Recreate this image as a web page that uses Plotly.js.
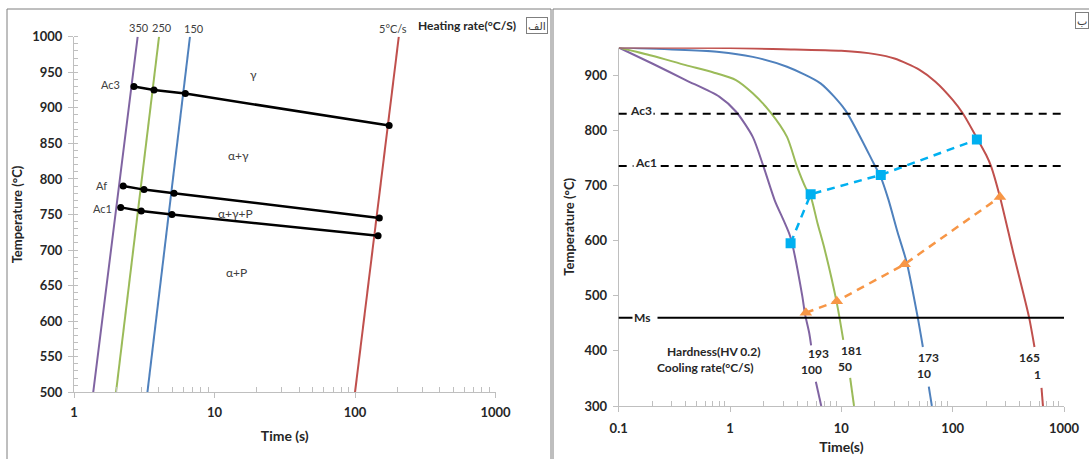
<!DOCTYPE html>
<html>
<head>
<meta charset="utf-8">
<script src="https://cdn.plot.ly/plotly-3.0.1.min.js"></script>
<style>
  html, body { margin: 0; padding: 0; background: #ffffff; }
  #chart { width: 1089px; height: 459px; }
</style>
</head>
<body>
<div id="chart"></div>
<script>
// ---------- Panel (الف): heating diagram ----------
const heatRateLabels = ['350', '250', '150', '5°C/s'];
const heat350Time = [1.37, 2.84];
const heat350Temp = [500, 1000];
const heat250Time = [1.99, 4.03];
const heat250Temp = [500, 1000];
const heat150Time = [3.33, 6.69];
const heat150Temp = [500, 1000];
const heat5Time = [100, 205];
const heat5Temp = [500, 1000];

const ac3Time = [2.67, 3.71, 6.2, 175];
const ac3Temp = [930, 925, 920, 875];
const afTime = [2.24, 3.15, 5.15, 149];
const afTemp = [790, 785, 780, 745];
const ac1Time = [2.15, 3.01, 4.98, 146];
const ac1Temp = [760, 755, 750, 720];

const heatTimeTicks = [1, 10, 100, 1000];
const heatTimeTickText = ['1', '10', '100', '1000'];

// ---------- Panel (ب): cooling diagram ----------
const coolRates = ['100', '50', '10', '1'];
const hardness = ['193', '181', '173', '165'];

const cool100Time = [0.1, 0.2, 0.4, 0.8, 1.13, 1.6, 2.0, 2.52, 3.48, 4.47, 4.7, 5.15, 5.35, null, 5.9, 6.6];
const cool100Temp = [950, 921, 891, 861, 834, 788, 734, 673, 607, 498, 468, 432, 410, null, 344, 300];
const cool50Time = [0.1, 0.2, 0.4, 0.7, 1.13, 1.6, 2.3, 3.25, 4.0, 4.8, 5.3, 6.1, 7.1, 9.1, 10.4, null, 12.0, 13.0];
const cool50Temp = [950, 935, 918, 905, 891, 867, 833, 788, 734, 695, 680, 632, 583, 487, 420, null, 351, 300];
const cool10Time = [0.1, 0.8, 1.6, 3.25, 6.5, 10.8, 15.3, 19.5, 22.6, 26.4, 32, 38.8, 48.4, 54, null, 61, 65];
const cool10Temp = [950, 942, 933, 915, 885, 837, 782, 740, 715, 675, 615, 559, 462, 407, null, 335, 300];
const cool1Time = [0.1, 1, 3, 10, 20, 30, 50, 70, 100, 124, 165, 200, 221, 266, 350, 484, 543, null, 628, 647];
const cool1Temp = [950, 949, 947, 944, 938, 930, 910, 888, 855, 830, 786, 755, 735, 679, 578, 462, 407, null, 333, 300];

const startTime = [3.5, 5.3, 22.6, 165];
const startTemp = [595, 684, 719, 783];
const finishTime = [4.8, 9.1, 37, 266];
const finishTemp = [469, 490, 557, 679];

const criticalNames = ['Ac3', 'Ac1', 'Ms'];
const criticalTemps = [830, 735, 460];

const coolTimeTicks = [0.1, 1, 10, 100, 1000];
const coolTimeTickText = ['0.1', '1', '10', '100', '1000'];
const coolTempTicks = [300, 400, 500, 600, 700, 800, 900];

// ---------- styling ----------
const W = 1089, H = 459;
const px = x => x / W;
const py = y => 1 - y / H;
const FONT = 'Lato, "Open Sans", "DejaVu Sans", sans-serif';
const AXIS_GREY = '#bfbfbf';
const TEXT_DARK = '#262626';
const PURPLE = '#8064A2', GREEN = '#9BBB59', BLUE = '#4F81BD', RED = '#C0504D';
const CYAN = '#00B0F0', ORANGE = '#F79646';

function minorLogTicks(fromExp, toExp) {
  const vals = [];
  for (let e = fromExp; e < toExp; e++) {
    for (let m = 2; m <= 9; m++) vals.push(m * Math.pow(10, e));
  }
  return vals;
}

const heatLine = (x, y, color) => ({
  x, y, xaxis: 'x', yaxis: 'y', type: 'scatter', mode: 'lines',
  line: { color, width: 2 }, hoverinfo: 'skip'
});
const criticalLine = (x, y) => ({
  x, y, xaxis: 'x', yaxis: 'y', type: 'scatter', mode: 'lines+markers',
  line: { color: '#000000', width: 2.5 },
  marker: { color: '#000000', size: 7 }, hoverinfo: 'skip'
});
const coolLine = (x, y, color) => ({
  x, y, xaxis: 'x2', yaxis: 'y2', type: 'scatter', mode: 'lines',
  connectgaps: false, line: { color, width: 2, shape: 'spline', smoothing: 0.7 },
  hoverinfo: 'skip'
});

const traces = [
  heatLine(heat350Time, heat350Temp, PURPLE),
  heatLine(heat250Time, heat250Temp, GREEN),
  heatLine(heat150Time, heat150Temp, BLUE),
  heatLine(heat5Time, heat5Temp, RED),
  criticalLine(ac3Time, ac3Temp),
  criticalLine(afTime, afTemp),
  criticalLine(ac1Time, ac1Temp),
  coolLine(cool100Time, cool100Temp, PURPLE),
  coolLine(cool50Time, cool50Temp, GREEN),
  coolLine(cool10Time, cool10Temp, BLUE),
  coolLine(cool1Time, cool1Temp, RED),
  {
    x: startTime, y: startTemp, xaxis: 'x2', yaxis: 'y2', type: 'scatter', mode: 'lines+markers',
    line: { color: CYAN, width: 2.5, dash: '8px,6px' },
    marker: { color: CYAN, symbol: 'square', size: 10 }, hoverinfo: 'skip'
  },
  {
    x: finishTime, y: finishTemp, xaxis: 'x2', yaxis: 'y2', type: 'scatter', mode: 'lines+markers',
    line: { color: ORANGE, width: 2.5, dash: '8px,6px' },
    marker: { color: ORANGE, symbol: 'triangle-up', size: 11 }, hoverinfo: 'skip'
  }
];

// horizontal critical-temperature lines across the cooling panel
const shapes = criticalTemps.map((t, i) => ({
  type: 'line', xref: 'x2 domain', yref: 'y2', x0: 0, x1: 1, y0: t, y1: t,
  line: { color: '#000000', width: i === 2 ? 1.8 : 2, dash: i === 2 ? 'solid' : '8px,6px' }
}));
// panel frames
shapes.push(
  { type: 'rect', xref: 'paper', yref: 'paper', x0: px(7), x1: px(551), y0: -0.1, y1: py(9),
    line: { color: '#7f7f7f', width: 1 } },
  { type: 'rect', xref: 'paper', yref: 'paper', x0: px(553), x1: 1.1, y0: -0.1, y1: py(9),
    line: { color: '#7f7f7f', width: 1 } }
);

const note = (text, x, y, opts = {}) => Object.assign({
  text, xref: 'paper', yref: 'paper', x: px(x), y: py(y), showarrow: false,
  xanchor: 'center', yanchor: 'middle',
  font: { family: FONT, size: 11, color: '#404040' }
}, opts);
const boldNote = (text, x, y, size = 12, extra = {}) =>
  note(text, x, y, Object.assign({ font: { family: FONT, size, color: TEXT_DARK, weight: 'bold' } }, extra));

const annotations = [
  // heating-rate labels above the left panel
  note(heatRateLabels[0], 139, 27),
  note(heatRateLabels[1], 162, 27),
  note(heatRateLabels[2], 194, 28),
  note(heatRateLabels[3], 393, 28),
  boldNote('Heating rate(°C/S)', 467, 26, 12),
  note('الف', 537, 26, { bordercolor: '#7f7f7f', borderwidth: 1, borderpad: 1,
    font: { family: FONT, size: 11, color: '#404040' } }),
  // critical points and phase fields
  note('Ac3', 110, 84),
  note('Af', 101, 185),
  note('Ac1', 103, 208),
  note('γ', 253, 75, { font: { family: FONT, size: 12, color: '#404040' } }),
  note('α+γ', 238, 155, { font: { family: FONT, size: 12, color: '#404040' } }),
  note('α+γ+P', 235, 213, { font: { family: FONT, size: 12, color: '#404040' } }),
  note('α+P', 236, 272, { font: { family: FONT, size: 12, color: '#404040' } }),
  // cooling panel
  boldNote(criticalNames[0], 641, 110, 12, { bgcolor: '#ffffff' }),
  boldNote(criticalNames[1], 646, 162, 12, { bgcolor: '#ffffff' }),
  boldNote(criticalNames[2] + '  ', 632, 317, 12, { bgcolor: '#ffffff', xanchor: 'left' }),
  boldNote('Hardness(HV 0.2)', 713, 351, 12),
  boldNote('Cooling rate(°C/S)', 705, 367, 12),
  boldNote(hardness[0], 818, 353, 12), boldNote(coolRates[0], 811, 369, 12),
  boldNote(hardness[1], 851, 350, 12), boldNote(coolRates[1], 845, 366, 12),
  boldNote(hardness[2], 928, 357, 12), boldNote(coolRates[2], 924, 373, 12),
  boldNote(hardness[3], 1029, 357, 12), boldNote(coolRates[3], 1037, 374, 12),
  note('ب', 1082, 21, { bordercolor: '#7f7f7f', borderwidth: 1, borderpad: 1,
    font: { family: FONT, size: 11, color: '#404040' } })
];

const tickFont = { family: FONT, size: 13, color: TEXT_DARK, weight: 'bold' };
const titleFont = { family: FONT, size: 13, color: TEXT_DARK, weight: 'bold' };
const baseAxis = {
  showline: true, linecolor: AXIS_GREY, linewidth: 1, showgrid: false, zeroline: false,
  ticks: 'outside', ticklen: 5, tickcolor: AXIS_GREY, tickfont: tickFont, fixedrange: true
};

const layout = {
  width: W, height: H,
  margin: { l: 0, r: 0, t: 0, b: 0 },
  paper_bgcolor: '#ffffff', plot_bgcolor: '#ffffff',
  showlegend: false,
  xaxis: Object.assign({}, baseAxis, {
    domain: [px(74), px(495.5)], anchor: 'y', type: 'log', range: [0, 3],
    tickmode: 'array', tickvals: heatTimeTicks, ticktext: heatTimeTickText,
    ticklabelstandoff: 3,
    minor: { tickmode: 'array', tickvals: minorLogTicks(0, 3), ticks: 'inside', ticklen: 5, tickcolor: AXIS_GREY },
    title: { text: 'Time (s)', font: Object.assign({}, titleFont, { size: 14 }), standoff: 12 }
  }),
  yaxis: Object.assign({}, baseAxis, {
    domain: [py(392.3), py(36.7)], anchor: 'x', range: [500, 1000], dtick: 50,
    ticklabelstandoff: 3,
    minor: { dtick: 10, ticks: 'inside', ticklen: 4, tickcolor: AXIS_GREY },
    title: { text: 'Temperature (°C)', font: titleFont, standoff: 6 }
  }),
  xaxis2: Object.assign({}, baseAxis, {
    domain: [px(618.7), px(1064)], anchor: 'y2', type: 'log', range: [-1, 3],
    tickmode: 'array', tickvals: coolTimeTicks, ticktext: coolTimeTickText,
    ticklabelstandoff: 5,
    minor: { tickmode: 'array', tickvals: minorLogTicks(-1, 3), ticks: 'inside', ticklen: 5, tickcolor: AXIS_GREY },
    title: { text: 'Time(s)', font: Object.assign({}, titleFont, { size: 14 }), standoff: 7 }
  }),
  yaxis2: Object.assign({}, baseAxis, {
    domain: [py(406), py(47.5)], anchor: 'x2', range: [300, 950],
    tickmode: 'array', tickvals: coolTempTicks,
    ticklabelstandoff: 3,
    title: { text: 'Temperature (°C)', font: titleFont, standoff: 6 }
  }),
  shapes, annotations
};

Plotly.newPlot('chart', traces, layout, { staticPlot: true, displayModeBar: false });
</script>
</body>
</html>
